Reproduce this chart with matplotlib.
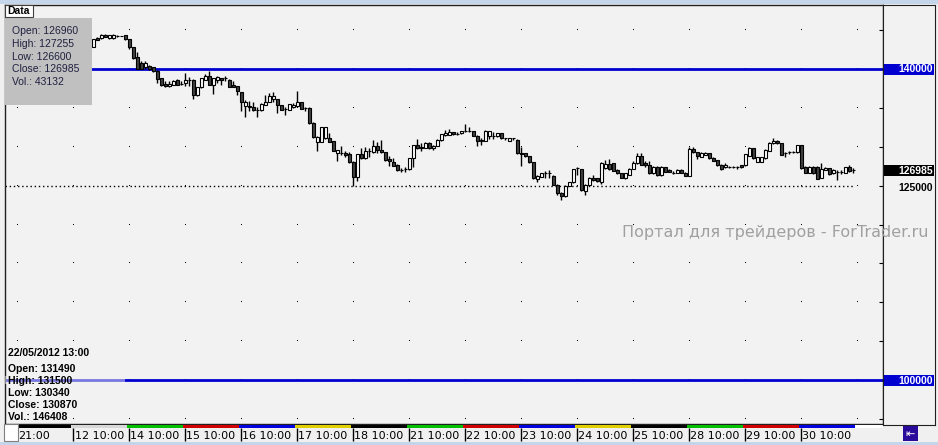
import numpy as np
import matplotlib.pyplot as plt
from matplotlib.patches import Rectangle
import matplotlib.transforms as mtransforms

# hourly bars, index 0 = "12 10:00" (bars 0..4 are hidden under the data box)
first_bar = 5
opens = [142829, 143986, 143986, 144333, 143986, 143986, 144180, 144243, 144333, 143858,
         142790, 141504, 140810, 140219, 140385, 140219, 139781, 138842, 138071, 137775,
         137981, 138624, 138071, 138199, 138624, 138624, 136617, 137646, 138624, 139138,
         137981, 138624, 138842, 138842, 138624, 137903, 137775, 137042, 135203, 135280,
         135113, 134727, 134727, 135409, 135756, 136180, 136103, 135331, 134817, 134766,
         135074, 135203, 135756, 134984, 134984, 133055, 130612, 130612, 131126, 131126,
         130702, 129159, 129159, 129197, 129030, 128001, 126149, 129030, 128516, 129454,
         129287, 130059, 129622, 129287, 128387, 128001, 127654, 126972, 127140, 127101,
         128516, 130226, 130007, 129879, 130483, 129802, 130136, 130830, 131512, 131512,
         131859, 131680, 131769, 132026, 132026, 132026, 131422, 130740, 130740, 131345,
         131422, 131345, 131769, 131088, 130740, 131088, 130908, 129197, 129197, 128773,
         128001, 125854, 126149, 126587, 126587, 126278, 125082, 124053, 123629, 124992,
         125429, 127230, 127140, 124310, 125082, 126021, 125944, 125506, 127230, 127783,
         127873, 127011, 126587, 125944, 126407, 127179, 127873, 128812, 127873, 127615,
         126587, 127435, 126329, 127358, 127011, 126664, 126664, 127011, 126664, 126239,
         129673, 129326, 128722, 128979, 129159, 128554, 128297, 127693, 127358, 127436,
         127436, 127358, 127615, 127615, 128812, 129840, 128040, 128040, 128554, 129493,
         130445, 130779, 130445, 129159, 129326, 129326, 129326, 130187, 127436, 126664,
         127436, 127436, 125982, 127011, 127268, 126587, 126754, 126754, 126664, 127358,
         126960]
highs = [143922, 144051, 144539, 144539, 144400, 144500, 144333, 144300, 144400, 143920,
         142850, 142186, 141067, 141067, 140500, 140300, 139850, 138900, 138495, 138495,
         138585, 138700, 138495, 139447, 138932, 138700, 137700, 138900, 139357, 139781,
         138900, 139138, 138900, 139138, 138700, 138420, 137850, 137100, 136013, 135923,
         135756, 135074, 135670, 136695, 136913, 137042, 136180, 135400, 135150, 135560,
         135630, 137209, 135820, 135150, 135050, 133120, 131350, 132570, 132570, 131731,
         130770, 129610, 130059, 129493, 129364, 128168, 129100, 129802, 129969, 129880,
         130830, 130650, 130908, 129350, 128773, 128593, 127720, 127230, 127397, 128580,
         130290, 130998, 130483, 130550, 130550, 130200, 130970, 131660, 132116, 132284,
         131920, 131859, 132090, 132888, 132540, 132090, 131480, 131088, 132194, 132090,
         131859, 131830, 131830, 131150, 131150, 131150, 130970, 129969, 129260, 128840,
         128060, 126340, 126650, 126883, 127011, 126340, 125150, 124120, 125050, 125500,
         127200, 127435, 127200, 125150, 126090, 126368, 126010, 128010, 128297, 128464,
         127940, 127080, 126650, 126650, 127240, 128168, 129159, 129159, 128168, 128207,
         127500, 127500, 127500, 127420, 127080, 126883, 127080, 127080, 126730, 129930,
         129930, 129390, 129300, 129390, 129220, 128620, 128360, 127760, 127850, 127590,
         127590, 127520, 127680, 129130, 130007, 129900, 128700, 128700, 129650, 130590,
         131126, 130840, 130510, 129326, 129493, 129450, 130250, 130250, 127500, 127500,
         127500, 127500, 127950, 127400, 127330, 127080, 127011, 126950, 127420, 127615,
         127255]
lows = [142765, 143729, 143922, 144051, 143922, 143922, 144076, 144180, 143790, 142610,
        141324, 139960, 139960, 139960, 139900, 139640, 138238, 137775, 137646, 137700,
        137900, 137900, 137981, 137775, 137775, 136180, 136550, 137580, 138560, 137900,
        136823, 138199, 137903, 138495, 137650, 137646, 136695, 134637, 133788, 134637,
        134620, 133865, 134650, 135350, 135700, 135756, 134380, 134700, 134123, 134700,
        135000, 135150, 134830, 134560, 132950, 131126, 129493, 130550, 131060, 130550,
        129430, 128130, 128979, 128644, 127940, 124992, 125596, 128450, 128450, 128720,
        129220, 129159, 129220, 128190, 127564, 127500, 126900, 126715, 126800, 127040,
        127435, 129740, 129454, 129815, 129740, 129622, 130070, 130770, 131425, 131450,
        131540, 131512, 131700, 131900, 131900, 131360, 130136, 130226, 130680, 130998,
        130998, 131280, 131020, 130830, 130680, 130830, 129130, 127564, 128710, 127940,
        125880, 125506, 126080, 125982, 125982, 125020, 123796, 123192, 123560, 124930,
        125360, 126368, 124340, 123796, 125020, 125660, 125530, 125211, 127170, 127040,
        126860, 126520, 125920, 125880, 126340, 127120, 127810, 127630, 127397, 126520,
        126520, 126270, 126270, 126730, 126730, 126500, 126600, 126600, 126180, 126180,
        129260, 128387, 128660, 128900, 128490, 128140, 127550, 127040, 127270, 127270,
        127300, 127200, 127300, 127550, 128750, 128490, 127980, 127980, 128490, 129430,
        130380, 130380, 128910, 128722, 129069, 129200, 129260, 127200, 126600, 126600,
        126520, 125830, 125920, 126950, 126430, 126520, 125725, 126497, 126600, 126780,
        126600]
closes = [143858, 143793, 144333, 144115, 144333, 144333, 144180, 144243, 143858, 142790,
          141414, 140038, 140038, 140810, 139961, 139704, 138752, 137903, 137775, 138071,
          138495, 137981, 138071, 138624, 138624, 136695, 137646, 138842, 139138, 137981,
          138842, 138971, 138546, 138842, 137723, 137723, 137132, 135756, 135756, 135074,
          134688, 134727, 135499, 135756, 136527, 136527, 135331, 134766, 134817, 135499,
          135409, 135756, 134894, 134984, 133017, 131216, 131293, 132502, 132502, 130612,
          129493, 129544, 129159, 128979, 128001, 126149, 129030, 128516, 129454, 129454,
          130059, 129622, 129287, 128258, 128168, 127564, 126972, 126972, 127140, 128516,
          130226, 129802, 129802, 130483, 129802, 130136, 130908, 131602, 131731, 131936,
          131602, 131680, 132026, 132026, 132026, 131422, 130740, 130908, 132026, 132026,
          131422, 131769, 131088, 131088, 131088, 131088, 129197, 129030, 128773, 128001,
          125944, 126278, 126587, 126587, 126587, 125082, 124015, 123629, 124992, 125429,
          127140, 127230, 124400, 125082, 126021, 125725, 125597, 127950, 127783, 127101,
          126921, 126587, 125982, 126587, 127179, 127950, 128812, 127693, 127693, 126587,
          127435, 126329, 127435, 126793, 126793, 126664, 127011, 126664, 126239, 129673,
          129326, 128812, 129236, 129236, 128554, 128207, 127615, 127101, 127615, 127436,
          127436, 127358, 127358, 129069, 129840, 128554, 128644, 128644, 129583, 130522,
          130779, 130445, 128979, 129159, 129326, 129326, 130187, 127268, 126664, 127436,
          126587, 125892, 127101, 127268, 126497, 127011, 126754, 126754, 127358, 126844,
          126985]

# day separators (bar index of 10:00) and weekday colours of the band
day_starts = [-14, 0, 14, 28, 42, 56, 70, 84, 98, 112, 126, 140, 154, 168, 182]
day_labels = ['21:00', '12 10:00', '14 10:00', '15 10:00', '16 10:00', '17 10:00',
              '18 10:00', '21 10:00', '22 10:00', '23 10:00', '24 10:00', '25 10:00',
              '28 10:00', '29 10:00', '30 10:00']
day_colors = ['#000000', '#d8d8d8', '#00c000', '#d00000', '#0000e0', '#e0d000',
              '#000000', '#00c000', '#d00000', '#0000e0', '#e0d000', '#000000',
              '#00c000', '#d00000', '#0000e0']

level_lines = [140000, 100000]
bid_level = 125000
last_price = 126985

data_box = ['Open: 126960', 'High: 127255', 'Low: 126600', 'Close: 126985', 'Vol.: 43132']
cross_date = '22/05/2012 13:00'
cross_box = ['Open: 131490', 'High: 131500', 'Low: 130340', 'Close: 130870', 'Vol.: 146408']

W, H = 938, 445
def px(x0, y0, x1, y1):
    return [x0 / W, 1 - y1 / H, (x1 - x0) / W, (y1 - y0) / H]

fig = plt.figure(figsize=(W / 100, H / 100), dpi=100)
fig.patch.set_facecolor('#f0f0f0')

xlim = ((5 - 73.3) / 4, (883 - 73.3) / 4)
ylim = (140000 - 355 * 128.6, 140000 + 64 * 128.6)

ax = fig.add_axes(px(5, 5, 883, 424))
ax.set_facecolor('#f2f2f2')
ax.set_xlim(xlim)
ax.set_ylim(ylim)
for s in ax.spines.values():
    s.set_color('#202020')
    s.set_linewidth(1)
ax.set_xticks([])
ax.yaxis.tick_right()
ax.set_yticks(np.arange(95000, 150000, 5000))
ax.tick_params(axis='y', direction='in', length=3, labelright=False, color='k')

# dotted grid: single dots at day x level
gx, gy = np.meshgrid(np.array(day_starts + [196]), np.arange(95000, 150000, 5000))
ax.plot(gx.ravel(), gy.ravel(), ',', color='k', zorder=1)

for lv in level_lines:
    ax.axhline(lv, color='#0000d0', lw=2, zorder=2)

ks = np.arange(first_bar, first_bar + len(opens))
o = np.array(opens); h = np.array(highs); l = np.array(lows); c = np.array(closes)
ax.hlines(bid_level, xlim[0], ks[-1] + 0.5, colors='k', linestyles=(0, (1, 2)), lw=1, zorder=2)

ax.vlines(ks, l, h, color='k', lw=1, zorder=3)
up = c >= o
body_lo = np.minimum(o, c)
body_h = np.maximum(np.abs(c - o), 20)
ax.bar(ks[up], body_h[up], bottom=body_lo[up], width=0.75, color='white',
       edgecolor='k', lw=0.8, zorder=4)
ax.bar(ks[~up], body_h[~up], bottom=body_lo[~up], width=0.75, color='#404040',
       edgecolor='k', lw=0.8, zorder=4)

# weekday colour band
band = fig.add_axes(px(5, 424.5, 883, 427.5))
band.set_xlim(xlim)
band.axis('off')
for i, k in enumerate(day_starts):
    band.axvspan(k - 0.5, k + 13.5, color=day_colors[i], lw=0)
band.axvspan(195.5, xlim[1], color='white', lw=0)

# time labels
tax = fig.add_axes(px(5, 428, 883, 442))
tax.set_xlim(xlim)
tax.set_ylim(0, 1)
tax.axis('off')
for k, lab in zip(day_starts, day_labels):
    tax.vlines(k, 0.05, 1, color='k', lw=1)
    tax.text(k + 0.3, 0.45, lab, ha='left', va='center', fontsize=8,
             family='DejaVu Sans', color='k')

# price scale panel
rax = fig.add_axes(px(883, 5, 935, 425))
rax.set_facecolor('#f2f2f2')
rax.set_ylim(ylim)
rax.set_xlim(0, 1)
rax.set_xticks([]); rax.set_yticks([])
for s in rax.spines.values():
    s.set_color('#202020')
trans = mtransforms.blended_transform_factory(rax.transAxes, rax.transData)
boxh = 11 * 128.6
for lv, bg, fg in [(140000, '#0000d0', 'white'), (100000, '#0000d0', 'white'),
                   (last_price, 'black', 'white'), (bid_level, None, 'black')]:
    yl = lv if bg else lv - 200
    if bg:
        rax.add_patch(Rectangle((0.02, lv - boxh / 2), 0.96, boxh, transform=trans,
                                color=bg, lw=0))
    rax.text(0.96, yl, str(lv), transform=trans, ha='right', va='center',
             fontsize=7.5, fontweight='bold', family='Liberation Sans', color=fg)

# overlay in pixel units
ov = fig.add_axes([0, 0, 1, 1], zorder=10)
ov.set_xlim(0, W); ov.set_ylim(H, 0)
ov.axis('off')
ov.patch.set_alpha(0)

ov.add_patch(Rectangle((0, 0), W, 4, color='#c5d5ea', lw=0))
ov.add_patch(Rectangle((0, 442), W, 3, color='#c5d5ea', lw=0))

# data window
ov.add_patch(Rectangle((5, 18), 87, 87, color='#c0c0c0', lw=0))
for i, t in enumerate(data_box):
    ov.text(12, 31 + i * 12.8, t, fontsize=7.5, family='Liberation Sans',
            color='#202040', va='center')
ov.add_patch(Rectangle((5, 5), 28, 12, facecolor='white', edgecolor='#404040', lw=0.8))
ov.text(7, 11, 'Data', fontsize=7.5, fontweight='bold', family='Liberation Sans', va='center')

# crosshair info
ov.add_patch(Rectangle((5, 376), 120, 8, color='#f2f2f2', alpha=0.5, lw=0))
ov.text(8, 353, cross_date, fontsize=7.5, fontweight='bold', family='Liberation Sans', va='center')
for i, t in enumerate(cross_box):
    ov.text(8, 369 + i * 12, t, fontsize=7.5, fontweight='bold', family='Liberation Sans',
            va='center')

ov.text(928, 233, 'Портал для трейдеров - ForTrader.ru', fontsize=11.5,
        family='DejaVu Sans', color='#a0a0a0', ha='right', va='center')

ov.add_patch(Rectangle((4, 424), 14, 17, facecolor='white', edgecolor='#808080', lw=0.8))
ov.add_patch(Rectangle((903, 426), 15, 15, color='#2a0a9a', lw=0))
ov.text(910.5, 433.5, '⇤', color='white', fontsize=8, ha='center', va='center',
        family='DejaVu Sans')

fig.savefig('out.png', dpi=100, facecolor=fig.get_facecolor())
